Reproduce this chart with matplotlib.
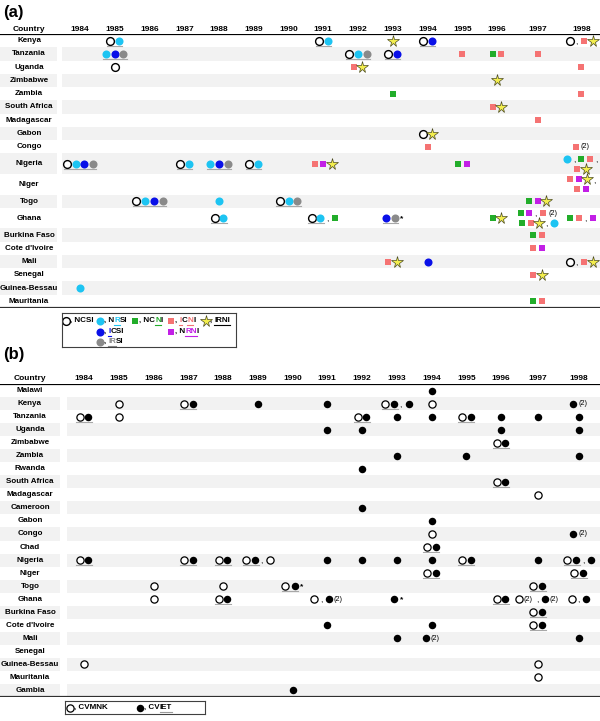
import matplotlib
matplotlib.use("Agg")
import matplotlib.pyplot as plt

plt.rcParams['font.family'] = ['Liberation Sans', 'DejaVu Sans']

W, H = 600, 721
years = list(range(1984, 1999))

# ---- panel (a) ----
countries_a = ["Kenya", "Tanzania", "Uganda", "Zimbabwe", "Zambia", "South Africa",
               "Madagascar", "Gabon", "Congo", "Nigeria", "Niger", "Togo", "Ghana",
               "Burkina Faso", "Cote d'Ivoire", "Mali", "Senegal", "Guinea-Bessau",
               "Mauritania"]

# o NCSI, c NRSI, b ICSI, g IRSI, G NCNI, R ICNI, M NRNI, S IRNI
# ',' comma  '*' asterisk  '2' -> "(2)"  '/' second line in the cell
cells_a = [
    ("Kenya", 1985, "oc"), ("Kenya", 1991, "oc"), ("Kenya", 1993, "S"),
    ("Kenya", 1994, "ob"), ("Kenya", 1998, "o,RS"),
    ("Tanzania", 1985, "cbg"), ("Tanzania", 1992, "ocg"), ("Tanzania", 1993, "ob"),
    ("Tanzania", 1995, "R"), ("Tanzania", 1996, "GR"), ("Tanzania", 1997, "R"),
    ("Uganda", 1985, "o"), ("Uganda", 1992, "RS"), ("Uganda", 1998, "R"),
    ("Zimbabwe", 1996, "S"),
    ("Zambia", 1993, "G"), ("Zambia", 1998, "R"),
    ("South Africa", 1996, "RS"),
    ("Madagascar", 1997, "R"),
    ("Gabon", 1994, "oS"),
    ("Congo", 1994, "R"), ("Congo", 1998, "R2"),
    ("Nigeria", 1984, "ocbg"), ("Nigeria", 1987, "oc"), ("Nigeria", 1988, "cbg"),
    ("Nigeria", 1989, "oc"), ("Nigeria", 1991, "RMS"), ("Nigeria", 1995, "GM"),
    ("Nigeria", 1998, "c,GR,/RS"),
    ("Niger", 1998, "RMS,/RM"),
    ("Togo", 1986, "ocbg"), ("Togo", 1988, "c"), ("Togo", 1990, "ocg"),
    ("Togo", 1997, "GMS"),
    ("Ghana", 1988, "oc"), ("Ghana", 1991, "oc,G"), ("Ghana", 1993, "bg*"),
    ("Ghana", 1996, "GS"), ("Ghana", 1997, "GM,R2/GRS,c"), ("Ghana", 1998, "GR,M"),
    ("Burkina Faso", 1997, "GR"),
    ("Cote d'Ivoire", 1997, "RM"),
    ("Mali", 1993, "RS"), ("Mali", 1994, "b"), ("Mali", 1998, "o,RS"),
    ("Senegal", 1997, "RS"),
    ("Guinea-Bessau", 1984, "c"),
    ("Mauritania", 1997, "GR"),
]

# ---- panel (b) ----
countries_b = ["Malawi", "Kenya", "Tanzania", "Uganda", "Zimbabwe", "Zambia", "Rwanda",
               "South Africa", "Madagascar", "Cameroon", "Gabon", "Congo", "Chad",
               "Nigeria", "Niger", "Togo", "Ghana", "Burkina Faso", "Cote d'Ivoire",
               "Mali", "Senegal", "Guinea-Bessau", "Mauritania", "Gambia"]

# o CVMNK, k CVIET
cells_b = [
    ("Malawi", 1994, "k"),
    ("Kenya", 1985, "o"), ("Kenya", 1987, "ok"), ("Kenya", 1989, "k"),
    ("Kenya", 1991, "k"), ("Kenya", 1993, "ok,k"), ("Kenya", 1994, "o"),
    ("Kenya", 1998, "k2"),
    ("Tanzania", 1984, "ok"), ("Tanzania", 1985, "o"), ("Tanzania", 1992, "ok"),
    ("Tanzania", 1993, "k"), ("Tanzania", 1994, "k"), ("Tanzania", 1995, "ok"),
    ("Tanzania", 1996, "k"), ("Tanzania", 1997, "k"), ("Tanzania", 1998, "k"),
    ("Uganda", 1991, "k"), ("Uganda", 1992, "k"), ("Uganda", 1996, "k"),
    ("Uganda", 1998, "k"),
    ("Zimbabwe", 1996, "ok"),
    ("Zambia", 1993, "k"), ("Zambia", 1995, "k"), ("Zambia", 1998, "k"),
    ("Rwanda", 1992, "k"),
    ("South Africa", 1996, "ok"),
    ("Madagascar", 1997, "o"),
    ("Cameroon", 1992, "k"),
    ("Gabon", 1994, "k"),
    ("Congo", 1994, "o"), ("Congo", 1998, "k2"),
    ("Chad", 1994, "ok"),
    ("Nigeria", 1984, "ok"), ("Nigeria", 1987, "ok"), ("Nigeria", 1988, "ok"),
    ("Nigeria", 1989, "ok,o"), ("Nigeria", 1991, "k"), ("Nigeria", 1992, "k"),
    ("Nigeria", 1993, "k"), ("Nigeria", 1994, "k"), ("Nigeria", 1995, "ok"),
    ("Nigeria", 1997, "k"), ("Nigeria", 1998, "ok,k"),
    ("Niger", 1994, "ok"), ("Niger", 1998, "ok"),
    ("Togo", 1986, "o"), ("Togo", 1988, "o"), ("Togo", 1990, "ok*"),
    ("Togo", 1997, "ok"),
    ("Ghana", 1986, "o"), ("Ghana", 1988, "ok"), ("Ghana", 1991, "o,k2"),
    ("Ghana", 1993, "k*"), ("Ghana", 1996, "ok"), ("Ghana", 1997, "o2,k2"),
    ("Ghana", 1998, "o,k"),
    ("Burkina Faso", 1997, "ok"),
    ("Cote d'Ivoire", 1991, "k"), ("Cote d'Ivoire", 1994, "k"),
    ("Cote d'Ivoire", 1997, "ok"),
    ("Mali", 1993, "k"), ("Mali", 1994, "k2"), ("Mali", 1998, "k"),
    ("Guinea-Bessau", 1984, "o"), ("Guinea-Bessau", 1997, "o"),
    ("Mauritania", 1997, "o"),
    ("Gambia", 1990, "k"),
]

CYAN, BLUE, GRAY = '#1dc4f2', '#0a10e8', '#8a8a8a'
GREEN, SALMON, MAGENTA = '#22ad2a', '#f57373', '#c21fe6'

styles_a = {
    'o': dict(marker='o', mfc='white', mec='black', ms=5.6, mew=1.0),
    'c': dict(marker='o', mfc=CYAN, mec=CYAN, ms=5.8, mew=0),
    'b': dict(marker='o', mfc=BLUE, mec=BLUE, ms=5.8, mew=0),
    'g': dict(marker='o', mfc=GRAY, mec=GRAY, ms=5.8, mew=0),
    'G': dict(marker='s', mfc=GREEN, mec=GREEN, ms=5.0, mew=0),
    'R': dict(marker='s', mfc=SALMON, mec=SALMON, ms=5.0, mew=0),
    'M': dict(marker='s', mfc=MAGENTA, mec=MAGENTA, ms=5.0, mew=0),
    'S': dict(marker='*', mfc='#f3ee4e', mec='#4a4a20', ms=8.5, mew=0.5),
}
styles_b = {
    'o': dict(marker='o', mfc='white', mec='black', ms=5.2, mew=0.9),
    'k': dict(marker='o', mfc='black', mec='black', ms=5.4, mew=0),
}
CIRCLES = set('ocbgk')
PPY = 34.75  # px per year column

fig = plt.figure(figsize=(W / 100, H / 100), dpi=100)


def draw_panel(top, height, countries, cells, styles, x1984, shifts, step,
               label_w, data_left, label_x, hdr_off):
    ax = fig.add_axes([0, 1 - (top + height) / H, 1, height / H])
    ax.axis('off')
    xmin = 1984 - x1984 / PPY
    ax.set_xlim(xmin, xmin + W / PPY)
    tall = {c for c, _, code in cells if '/' in code}
    heights = [1.55 if c in tall else 1.0 for c in countries]
    total = sum(heights)
    ax.set_ylim(total, 0)
    ppr = height / total
    centers, acc = {}, 0.0
    for c, h in zip(countries, heights):
        centers[c] = acc + h / 2
        acc += h

    def px(p):
        return xmin + p / PPY

    def colx(year):
        return px(x1984 + (year - 1984) * PPY + shifts.get(year, 0))

    # row shading
    for i, c in enumerate(countries):
        if i % 2 == 1:
            h = heights[i]
            ax.barh(centers[c], label_w / PPY, left=px(0), height=h,
                    color='#f2f2f2', lw=0)
            ax.barh(centers[c], (W - data_left) / PPY, left=px(data_left),
                    height=h, color='#f2f2f2', lw=0)
        ax.text(px(label_x), centers[c], c, ha='center', va='center',
                fontsize=5.8, fontweight='bold')

    # header
    hy = -hdr_off / ppr
    ax.text(px(label_x), hy, "Country", ha='center', va='center',
            fontsize=6, fontweight='bold')
    for yr in years:
        ax.text(colx(yr), hy, str(yr), ha='center', va='center',
                fontsize=6, fontweight='bold')
    ax.axhline(0, color='black', lw=1.6)
    ax.axhline(total, color='#303030', lw=1.6)

    widths = {',': 5.5, '*': 5.0, '2': 11.5}
    pts = {k: ([], []) for k in styles}
    for c, yr, code in cells:
        lines = code.split('/')
        n = len(lines)
        for li, line in enumerate(lines):
            dy = (li - (n - 1) / 2) * 10.0
            yc = centers[c] + dy / ppr
            ws = [widths.get(t, step) for t in line]
            x = x1984 + (yr - 1984) * PPY + shifts.get(yr, 0) - sum(ws) / 2
            run = []
            for t, w in zip(line + ' ', ws + [0]):
                if t in CIRCLES:
                    run.append((x, x + w))
                else:
                    if len(run) >= 2:
                        ax.plot([px(run[0][0] + 1), px(run[-1][1] - 1)],
                                [yc + 5.2 / ppr] * 2, color='#a8a8a8', lw=0.8)
                    run = []
                if t in styles:
                    pts[t][0].append(px(x + w / 2))
                    pts[t][1].append(yc)
                elif t == ',':
                    ax.text(px(x + w / 2 - 0.5), yc + 1.8 / ppr, ',', ha='center',
                            va='center', fontsize=6)
                elif t == '*':
                    ax.text(px(x + w / 2), yc + 0.5 / ppr, '*', ha='center',
                            va='center', fontsize=6, fontweight='bold')
                elif t == '2':
                    ax.text(px(x + 0.5), yc, '(2)', ha='left', va='center',
                            fontsize=5.2)
                x += w
    for k, (xs, ys) in pts.items():
        if xs:
            ax.plot(xs, ys, linestyle='none', **styles[k])
    return ax


draw_panel(34, 274, countries_a, cells_a, styles_a, 80, {1997: 6, 1998: 15},
           8.7, 57, 62, 29, 4.5)
draw_panel(384, 313, countries_b, cells_b, styles_b, 84, {1997: 2, 1998: 8.5},
           9.0, 60, 67, 30, 5.5)

fig.text(3 / W, 1 - 12 / H, "(a)", fontsize=12, fontweight='bold', va='center')
fig.text(3 / W, 1 - 354 / H, "(b)", fontsize=12, fontweight='bold', va='center')

renderer = fig.canvas.get_renderer()


def ink_width(lax, s):
    t = lax.text(0, 0, s, fontsize=5.8, fontweight='bold')
    w = t.get_window_extent(renderer).width
    t.remove()
    return w


def offset(lax, label, i):
    # distance from the label's first ink to the ink of character i
    if i == 0:
        return 0.0
    return ink_width(lax, label[:i + 1]) - ink_width(lax, label[i])


def legend_box(left, top, width, height, items):
    lax = fig.add_axes([left / W, 1 - (top + height) / H, width / W, height / H])
    lax.set_xlim(0, width)
    lax.set_ylim(height, 0)
    lax.set_xticks([])
    lax.set_yticks([])
    for s in lax.spines.values():
        s.set_linewidth(0.8)
        s.set_color('#404040')
    for mx, my, style, label, marks in items:
        lax.plot([mx], [my], linestyle='none', **style)
        x0 = mx + 4.0
        cuts = sorted({0, len(label)} | {m[0] for m in marks} | {m[1] for m in marks})
        marked = {m[0]: (m[2], m[3]) for m in marks}
        for a, b in zip(cuts[:-1], cuts[1:]):
            seg = label[a:b]
            xs = x0 + offset(lax, label, a)
            tcol, lcol = marked.get(a, ('black', None))
            lax.text(xs, my, seg, color=tcol, fontsize=5.8, fontweight='bold',
                     ha='left', va='center')
            if lcol:
                w = ink_width(lax, seg)
                lax.plot([xs, xs + w], [my + 4.2, my + 4.2], color=lcol, lw=0.8)


K = 'black'
legend_box(62, 313, 174, 34, [
    (4, 7.5, styles_a['o'], ", NCSI", []),
    (38, 7.5, styles_a['c'], ", NRSI", [(3, 4, CYAN, CYAN)]),
    (73, 7.5, styles_a['G'], ", NCNI", [(4, 5, GREEN, GREEN)]),
    (109, 7.5, styles_a['R'], ", ICNI", [(2, 3, SALMON, SALMON), (4, 5, SALMON, SALMON)]),
    (144, 7.5, styles_a['S'], ", IRNI", [(2, 6, K, K)]),
    (38, 18.5, styles_a['b'], ", ICSI", [(2, 3, BLUE, BLUE)]),
    (109, 18.5, styles_a['M'], ", NRNI", [(3, 5, MAGENTA, MAGENTA)]),
    (38, 28.5, styles_a['g'], ", IRSI", [(2, 4, GRAY, GRAY)]),
])
legend_box(65, 701, 140, 13, [
    (5, 6.5, styles_b['o'], ", CVMNK", []),
    (75, 6.5, styles_b['k'], ", CVIET", [(4, 7, K, '#9a9a9a')]),
])

fig.savefig('out.png', dpi=100)
